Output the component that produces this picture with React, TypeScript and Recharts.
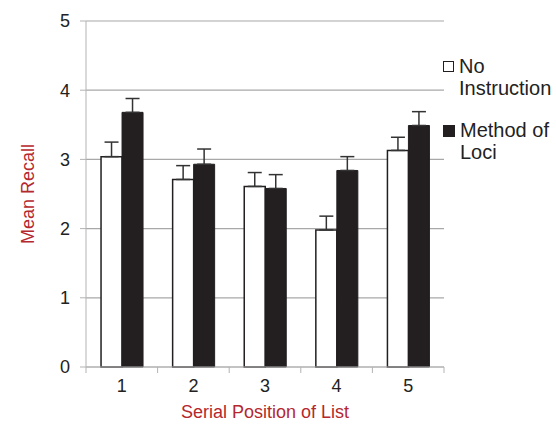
import React from "react";
import { BarChart, Bar, XAxis, YAxis, CartesianGrid, ErrorBar } from "recharts";

const positions = ["1", "2", "3", "4", "5"];
const noInstruction = [3.04, 2.71, 2.61, 1.98, 3.13];
const noInstructionErr = [0.21, 0.2, 0.2, 0.2, 0.19];
const methodOfLoci = [3.68, 2.93, 2.58, 2.84, 3.49];
const methodOfLociErr = [0.2, 0.22, 0.2, 0.2, 0.2];
const yTicks = [0, 1, 2, 3, 4, 5];

const data = positions.map((p, i) => ({
  pos: p,
  none: noInstruction[i],
  noneErr: [0, noInstructionErr[i]],
  loci: methodOfLoci[i],
  lociErr: [0, methodOfLociErr[i]],
}));

const font = "'Liberation Sans', Arial, sans-serif";
const dark = "#231f20";
const axisGray = "#b3b3b3";

const XTick = (props: any) => {
  const { x, y, payload, index } = props;
  const half = payload && payload.offset ? payload.offset : 35.8;
  return (
    <g>
      <line x1={x - half} x2={x - half} y1={y} y2={y + 6} stroke={axisGray} />
      {index === positions.length - 1 && (
        <line x1={x + half} x2={x + half} y1={y} y2={y + 6} stroke={axisGray} />
      )}
      <text x={x} y={y + 25} textAnchor="middle" fontSize={18} fill="#222" fontFamily={font}>
        {payload.value}
      </text>
    </g>
  );
};

const Legend = () => (
  <div
    style={{
      position: "absolute",
      left: 443,
      top: 55,
      fontFamily: font,
      fontSize: 20,
      lineHeight: "22px",
      color: "#222",
    }}
  >
    <div style={{ display: "flex", alignItems: "flex-start" }}>
      <div style={{ width: 9, height: 9, border: `1.5px solid ${dark}`, background: "#fff", marginTop: 6, marginRight: 5 }} />
      <div>No<br />Instruction</div>
    </div>
    <div style={{ display: "flex", alignItems: "flex-start", marginTop: 20 }}>
      <div style={{ width: 12, height: 12, background: dark, marginTop: 6, marginRight: 5 }} />
      <div>Method of<br />Loci</div>
    </div>
  </div>
);

export default function App() {
  return (
    <div style={{ position: "absolute", left: 0, top: 0, width: 556, height: 427, background: "#fff" }}>
      <BarChart
        width={556}
        height={427}
        data={data}
        margin={{ top: 21, right: 112, bottom: 0, left: 0 }}
        barCategoryGap="21%"
        barGap={0}
      >
        <CartesianGrid vertical={false} stroke="#a8a8a8" strokeWidth={1.2} />
        <XAxis
          dataKey="pos"
          height={60}
          tickLine={false}
          tickSize={0}
          tickMargin={0}
          axisLine={{ stroke: axisGray }}
          tick={<XTick />}
          interval={0}
          label={{
            value: "Serial Position of List",
            position: "insideBottom",
            offset: 9,
            fill: "#b5282e",
            fontSize: 18,
            fontFamily: font,
          }}
        />
        <YAxis
          width={86}
          domain={[0, 5]}
          ticks={yTicks}
          interval={0}
          tickSize={6}
          tickMargin={10}
          axisLine={{ stroke: axisGray }}
          tickLine={{ stroke: axisGray }}
          tick={{ fontSize: 18, fill: "#222", fontFamily: font }}
          label={{
            value: "Mean Recall",
            angle: -90,
            position: "insideLeft",
            offset: 28,
            fill: "#b5282e",
            fontSize: 18,
            fontFamily: font,
            style: { textAnchor: "middle" },
          }}
        />
        <Bar dataKey="none" fill="#fff" stroke={dark} strokeWidth={1.5} isAnimationActive={false}>
          <ErrorBar dataKey="noneErr" width={7} stroke="#333" strokeWidth={1.5} direction="y" />
        </Bar>
        <Bar dataKey="loci" fill={dark} stroke={dark} strokeWidth={1} isAnimationActive={false}>
          <ErrorBar dataKey="lociErr" width={7} stroke="#333" strokeWidth={1.5} direction="y" />
        </Bar>
      </BarChart>
      <Legend />
    </div>
  );
}
